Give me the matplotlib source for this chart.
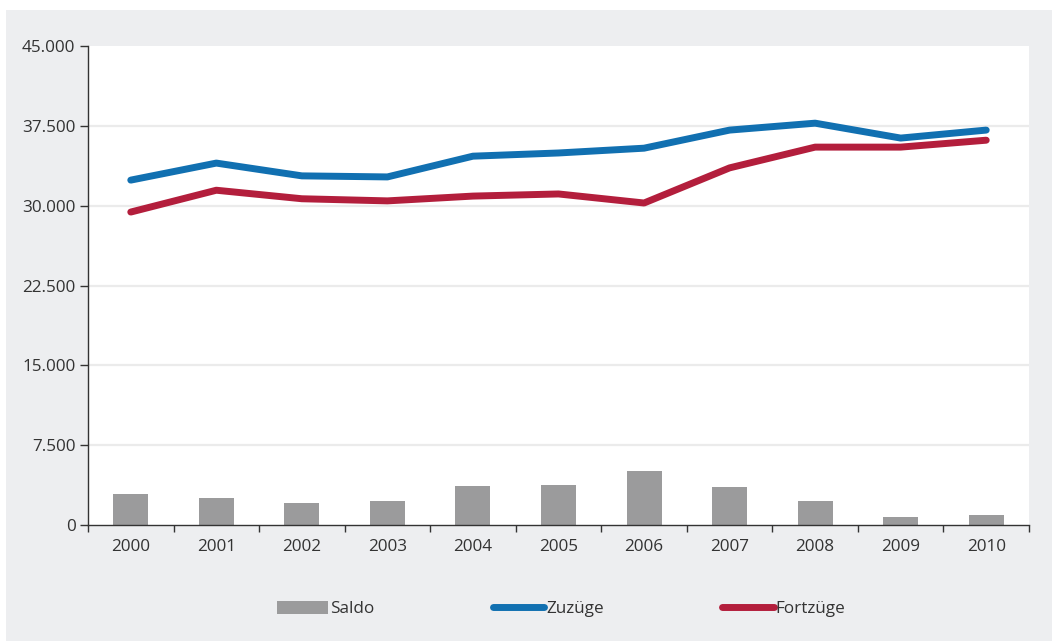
import matplotlib
matplotlib.use("Agg")
import matplotlib.pyplot as plt
import numpy as np
from matplotlib.patches import Rectangle
from matplotlib.ticker import FuncFormatter

years = ["2000", "2001", "2002", "2003", "2004", "2005", "2006", "2007", "2008", "2009", "2010"]
zuzuege = [32400, 34000, 32800, 32700, 34650, 34950, 35400, 37100, 37750, 36350, 37100]
fortzuege = [29400, 31450, 30650, 30450, 30900, 31100, 30250, 33550, 35500, 35500, 36150]
saldo = [2900, 2550, 2050, 2250, 3650, 3750, 5050, 3550, 2250, 750, 950]
yticks = [0, 7500, 15000, 22500, 30000, 37500, 45000]

plt.rcParams['font.family'] = ['Open Sans', 'DejaVu Sans']
FS = 12.3

W, H = 1052, 641
fig = plt.figure(figsize=(W / 100, H / 100), dpi=100)
fig.patch.set_facecolor("white")
fig.patches.append(Rectangle((6 / W, 0), 1 - 6 / W, 1 - 10 / H, transform=fig.transFigure,
                             facecolor="#edeef0", edgecolor="none", zorder=-10))

ax = fig.add_axes([88 / W, 1 - 525 / H, (1029 - 88) / W, (525 - 46) / H])
ax.set_facecolor("white")

x = np.arange(len(years))
bars = ax.bar(x, saldo, width=0.41, color="#9b9b9c", label="Saldo", zorder=2)
l1, = ax.plot(x, zuzuege, color="#1170b1", lw=5, solid_capstyle="round", solid_joinstyle="round", label="Zuzüge", zorder=3)
l2, = ax.plot(x, fortzuege, color="#b31e3c", lw=5, solid_capstyle="round", solid_joinstyle="round", label="Fortzüge", zorder=3)

ax.set_xlim(-0.5, len(years) - 0.5)
ax.set_ylim(0, 45000)
ax.set_yticks(yticks)
ax.yaxis.set_major_formatter(FuncFormatter(lambda v, p: f"{int(v):,}".replace(",", ".")))
ax.set_xticks(x)
ax.set_xticklabels(years)
ax.set_xticks(np.arange(-0.5, len(years)), minor=True)
ax.tick_params(axis="x", which="major", length=0, pad=10, labelsize=FS, colors="#333333")
ax.tick_params(axis="x", which="minor", length=5, width=1, color="#333333")
ax.tick_params(axis="y", length=6, width=1, color="#333333", labelsize=FS, labelcolor="#333333", pad=3)
for yv in yticks[1:-1]:
    ax.axhline(yv, color="#ebebeb", lw=1.6, zorder=1)

for s in ["top", "right"]:
    ax.spines[s].set_visible(False)
ax.spines["left"].set_color("#333333")
ax.spines["bottom"].set_color("#333333")
ax.spines["left"].set_linewidth(1)
ax.spines["bottom"].set_linewidth(1)

leg = fig.legend(handles=[bars, l1, l2], loc="center", bbox_to_anchor=(561 / W, 1 - 609 / H),
                 ncol=3, frameon=False, fontsize=FS, handlelength=3.0, handletextpad=0.1,
                 columnspacing=6.95, handleheight=0.85)
for t in leg.get_texts():
    t.set_color("#333333")

fig.savefig("out.png", dpi=100, facecolor=fig.get_facecolor())
